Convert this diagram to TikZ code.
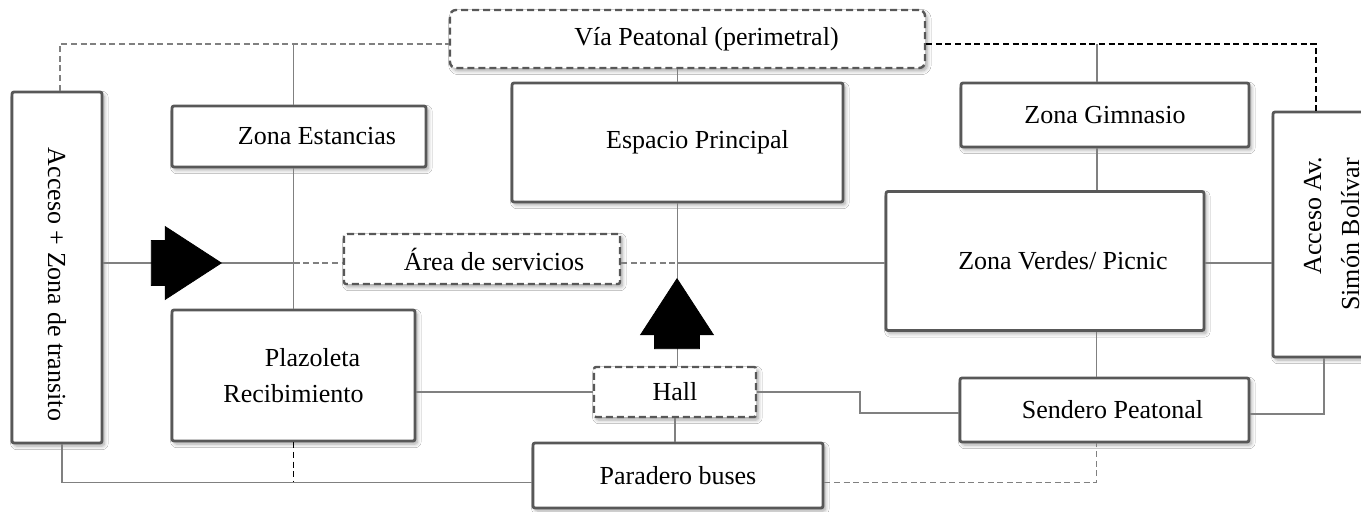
\documentclass[tikz,border=0pt]{standalone}
\usepackage{fontspec}
\usepackage{graphicx}
\setmainfont{Liberation Serif}
\usetikzlibrary{shapes.arrows,shadows.blur,positioning}
\definecolor{boxgray}{RGB}{88,88,88}
\definecolor{linegray}{RGB}{128,128,128}

\begin{document}
\begin{tikzpicture}[x=0.5pt,y=-0.5pt,
		font=\fontsize{13}{15}\selectfont,
		zona/.style={draw=boxgray, line width=1.4pt, fill=white, rounded corners=1pt, inner sep=0pt, align=center,
			blur shadow={shadow xshift=1.2pt, shadow yshift=-1.5pt, shadow blur steps=6, shadow opacity=35}},
		zonadash/.style={zona, line width=1.2pt, dash pattern=on 3.5pt off 2pt},
		conn/.style={draw=linegray, line width=0.75pt},
		conndash/.style={conn, dash pattern=on 3pt off 1.8pt},
		conndark/.style={draw=black, line width=0.75pt, dash pattern=on 3pt off 1.8pt},
		flecha/.style={single arrow, fill=black, draw=black, inner xsep=0pt, inner ysep=11pt, minimum height=35pt,
			single arrow head extend=7pt, single arrow tip angle=66}]
	\clip (0,0) rectangle (1361,512);
	\fill[white] (0,0) rectangle (1361,512);
	% cajas
	\node[zona, minimum width=45pt, minimum height=175.5pt] (acc) at (57,267.5) {\rotatebox{-90}{\hspace*{17pt}Acceso + Zona de transito}};
	\node[zonadash, rounded corners=3pt, minimum width=237.5pt, minimum height=29pt] (via) at (687.5,39) {\hspace*{19pt}Vía Peatonal (perimetral)};
	\node[zona, minimum width=127pt, minimum height=30.5pt] (est) at (299,136.5) {\hspace*{18pt}Zona Estancias};
	\node[zona, minimum width=165.5pt, minimum height=59.5pt] (esp) at (677.5,142.5) {\hspace*{20pt}Espacio Principal};
	\node[zona, minimum width=144pt, minimum height=32pt] (gim) at (1105,115) {Zona Gimnasio};
	\node[zona, minimum width=159pt, minimum height=69.5pt] (ver) at (1045,261) {\hspace*{18pt}Zona Verdes/ Picnic};
	\node[zona, minimum width=61pt, minimum height=122.5pt] (accb) at (1334,234.5) {\rotatebox{90}{\begin{tabular}{@{}c@{}}\hspace*{19pt}Acceso Av.\\[4pt] Simón Bolívar\end{tabular}}};
	\node[zonadash, minimum width=138pt, minimum height=25pt] (are) at (482,259) {\hspace*{12pt}Área de servicios};
	\node[zona, minimum width=121.5pt, minimum height=65.5pt, font=\fontsize{13}{18}\selectfont] (pla) at (293.5,375.5) {\hspace*{19pt}Plazoleta\\Recibimiento};
	\node[zonadash, minimum width=81pt, minimum height=25pt] (hal) at (675,392) {Hall};
	\node[zona, minimum width=144.5pt, minimum height=32pt] (sen) at (1104.5,410) {\hspace*{8pt}Sendero Peatonal};
	\node[zona, minimum width=145pt, minimum height=32.5pt] (par) at (678,475.5) {Paradero buses};
	\coordinate (vw) at ([yshift=-2.5pt]via.west);
	\coordinate (ve) at ([yshift=-2.5pt]via.east);
	\coordinate (mid) at (0,263);
	\coordinate (pw) at ([yshift=-3.5pt]par.west);
	\coordinate (pe) at ([yshift=-3.5pt]par.east);
	% conexiones
	\draw[conndash] ([xshift=1.5pt]acc.north) |- (vw);
	\draw[conn] (pla.north |- est.north) -- (pla.north |- vw);
	\draw[conn] (pla.north |- est.south) -- (pla.north);
	\draw[conn] (esp.north) -- (esp.north |- via.south);
	\draw[conndark] (ve) -| ([xshift=-9pt]accb.north);
	\draw[conn] ([xshift=-4pt]gim.north) -- ([xshift=-4pt]gim.north |- ve);
	\draw[conn] ([xshift=-4pt]gim.south) -- ([xshift=-4pt]gim.south |- ver.north);
	\draw[conn] (acc.east |- mid) -- (pla.north |- mid);
	\draw[conndash] (pla.north |- mid) -- (are.west |- mid);
	\draw[conndash] (are.east |- mid) -- (esp.south |- mid);
	\draw[conn] (esp.south |- mid) -- (ver.west |- mid);
	\draw[conn] (ver.east |- mid) -- (accb.west |- mid);
	\draw[conn] (esp.south) -- (esp.south |- hal.north);
	\draw[conn] (hal.west) -- (hal.west -| pla.east);
	\draw[conn] (hal.east) -- ++(51.5pt,0) |- ([yshift=-1.5pt]sen.west);
	\draw[conn] ([xshift=-4pt]sen.north) -- ([xshift=-4pt]sen.north |- ver.south);
	\draw[conn] ([yshift=-2pt]sen.east) -| ([xshift=-5pt]accb.south);
	\draw[conn] (hal.south) -- (hal.south |- par.north);
	\draw[conn] ([xshift=2.5pt]acc.south) |- (pw);
	\draw[conndark] (pla.south) -- (pla.south |- pw);
	\draw[conndash] (pe) -| ([xshift=-4pt]sen.south);
	% flechas
	\node[flecha, anchor=tip] (fder) at (222,263) {};
	\node[flecha, rotate=90, anchor=tip] (farr) at (677,278) {};
\end{tikzpicture}
\end{document}
